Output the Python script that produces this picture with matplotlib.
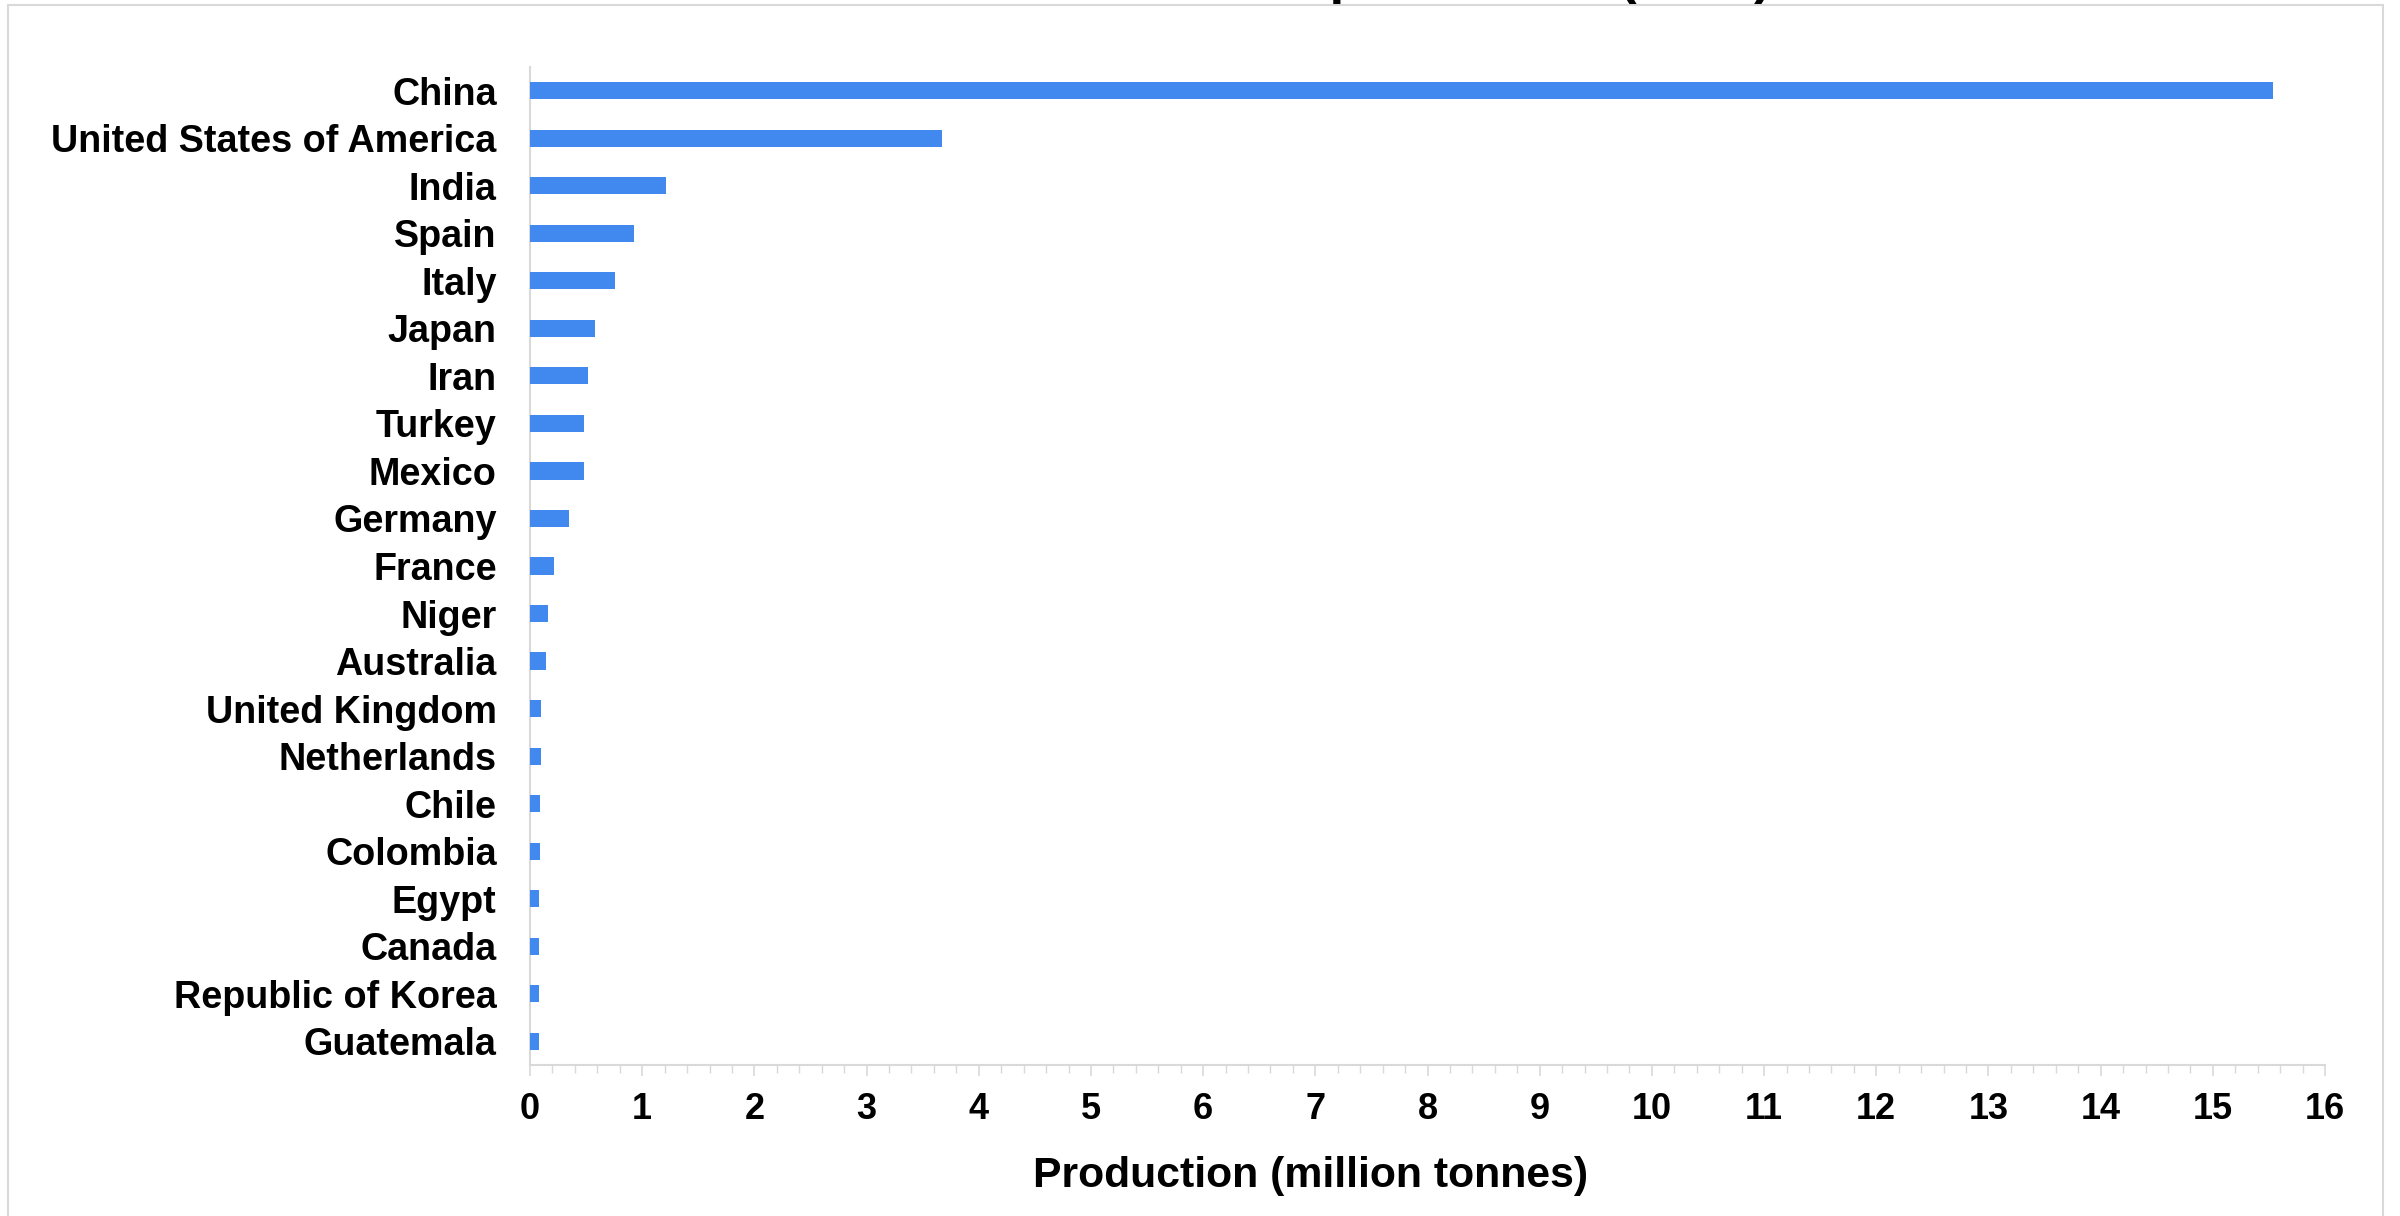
import matplotlib
matplotlib.use("Agg")
import matplotlib.pyplot as plt
from matplotlib.patches import Rectangle
from matplotlib.ticker import MultipleLocator

plt.rcParams['font.family'] = ['Liberation Sans', 'DejaVu Sans']
plt.rcParams['font.weight'] = 'bold'

countries = ["China", "United States of America", "India", "Spain", "Italy", "Japan",
             "Iran", "Turkey", "Mexico", "Germany", "France", "Niger", "Australia",
             "United Kingdom", "Netherlands", "Chile", "Colombia", "Egypt", "Canada",
             "Republic of Korea", "Guatemala"]
production = [15.54, 3.67, 1.215, 0.93, 0.76, 0.575, 0.52, 0.485, 0.48, 0.35, 0.21,
              0.163, 0.143, 0.10, 0.095, 0.09, 0.089, 0.083, 0.08, 0.077, 0.077]
xticks = list(range(0, 17))
title = "Lettuce production (2018)"
xlabel = "Production (million tonnes)"

W, H, DPI = 24.0, 12.16, 100
fig = plt.figure(figsize=(W, H), dpi=DPI)
ax = fig.add_axes([530/2400, 1 - 1065/1216, (2325-530)/2400, (1065-67)/1216])

ypos = list(range(len(countries)))
ax.barh(ypos, production, height=0.36, color="#4189EE", zorder=3)
ax.set_ylim(len(countries) - 0.5, -0.5)
ax.set_xlim(0, 16)
ax.set_yticks(ypos)
ax.set_yticklabels(countries, fontsize=27.2, fontweight='bold')
ax.set_xticks(xticks)
ax.set_xticklabels([str(t) for t in xticks], fontsize=26, fontweight='bold')
ax.xaxis.set_minor_locator(MultipleLocator(0.2))

grey = "#d9d9d9"
for s in ["top", "right"]:
    ax.spines[s].set_visible(False)
for s in ["left", "bottom"]:
    ax.spines[s].set_color(grey)
    ax.spines[s].set_linewidth(1.5)

ax.tick_params(axis='y', length=0, pad=24)
ax.tick_params(axis='x', which='major', length=8, width=1.2, color=grey, pad=11.5)
ax.tick_params(axis='x', which='minor', length=5.5, width=1.0, color=grey)

# x axis title (placed as in the reference, left of the axes centre)
fig.text(1311/2400, 1 - 1176/1216, xlabel, fontsize=30.8, fontweight='bold',
         ha='center', va='center', color='black')

# outer frame
fig.patches.append(Rectangle((7.5/2400, -0.05), (2383-7.5)/2400, 1.05 - 5/1216,
                             transform=fig.transFigure, fill=False,
                             edgecolor=grey, linewidth=1.5, zorder=0))
# chart title (cut off at the top of the image)
fig.text(1128/2400, 1 + 7/1216, title, fontsize=38, fontweight='bold',
         ha='left', va='baseline', color='black')

fig.savefig("out.png", dpi=DPI, facecolor='white')
